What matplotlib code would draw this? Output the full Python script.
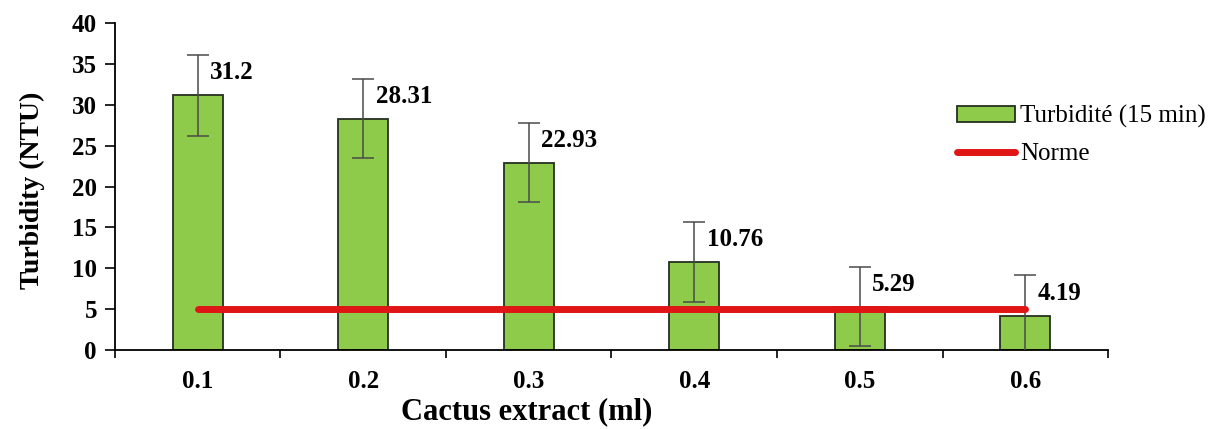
import matplotlib
matplotlib.use("Agg")
import matplotlib.pyplot as plt
from matplotlib.ticker import FixedLocator

plt.rcParams['font.family'] = ['Liberation Serif', 'DejaVu Serif']

categories = ["0.1", "0.2", "0.3", "0.4", "0.5", "0.6"]
turbidity = [31.2, 28.31, 22.93, 10.76, 5.29, 4.19]
errors = [4.95, 4.8, 4.85, 4.9, 4.85, 4.95]
norme = [5, 5, 5, 5, 5, 5]

fig = plt.figure(figsize=(12.18, 4.29), dpi=100)
ax = fig.add_axes([0.0944, 0.184, 0.8153, 0.762])

x = list(range(len(categories)))
ax.bar(x, turbidity, width=0.30, color="#8fcb4a", edgecolor="#243020",
       linewidth=1.3, label="Turbidité (15 min)", zorder=2)
ax.errorbar(x, turbidity, yerr=errors, fmt="none", ecolor="#4a4a4a",
            elinewidth=1.1, capsize=8, capthick=1.1, zorder=3)
ax.plot(x, norme, color="#e01515", linewidth=5, solid_capstyle="round",
        label="Norme", zorder=4)

for xi, v in zip(x, turbidity):
    ax.annotate(f"{v:g}", xy=(xi, v), xytext=(9, 16),
                textcoords="offset points", ha="left", va="center",
                fontsize=18, fontweight="bold")

ax.set_xlim(-0.5, len(categories) - 0.5)
ax.set_ylim(0, 40)
ax.set_yticks(range(0, 41, 5))
ax.set_xticks(x)
ax.set_xticklabels(categories)
ax.xaxis.set_minor_locator(FixedLocator([i + 0.5 for i in range(-1, len(categories))]))
ax.tick_params(axis="x", which="major", length=0, pad=14)
ax.tick_params(axis="x", which="minor", length=6, width=1.2, direction="out")
ax.tick_params(axis="y", length=7, width=1.2, direction="out", pad=6)
for lbl in ax.get_xticklabels() + ax.get_yticklabels():
    lbl.set_fontsize(18)
    lbl.set_fontweight("bold")

ax.spines["top"].set_visible(False)
ax.spines["right"].set_visible(False)
ax.spines["left"].set_linewidth(1.3)
ax.spines["bottom"].set_linewidth(1.3)

ax.set_xlabel("Cactus extract (ml)", fontsize=22, fontweight="bold", va="center")
ax.xaxis.set_label_coords(0.415, -0.19)
ax.set_ylabel("Turbidity (NTU)", fontsize=20, fontweight="bold")
ax.yaxis.set_label_coords(-0.07, 0.49)

handles, labels = ax.get_legend_handles_labels()
order = [labels.index("Turbidité (15 min)"), labels.index("Norme")]
fig.legend([handles[i] for i in order], [labels[i] for i in order],
           loc="upper left", bbox_to_anchor=(0.786, 0.755),
           bbox_transform=fig.transFigure, frameon=False,
           fontsize=18, handlelength=2.3, handleheight=0.6, handletextpad=0.2,
           borderpad=0, borderaxespad=0, labelspacing=0.6)

fig.savefig("out.png", dpi=100)
